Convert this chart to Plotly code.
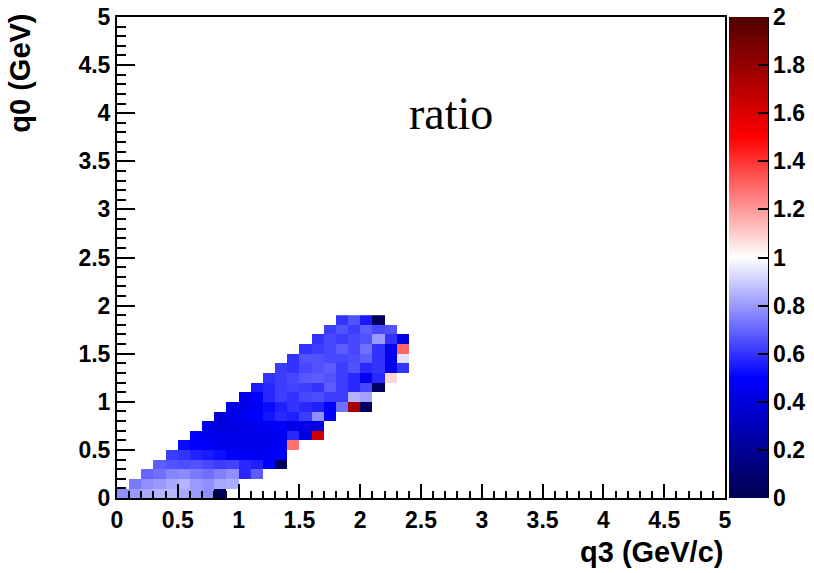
import numpy as np
import plotly.graph_objects as go

# Binning: 0.1 GeV bins in both q3 and q0, axes span [0, 5]
bin_width = 0.1
n_q3_bins = 25
axis_max = 5

# First filled q3 bin of every q0 row (row k covers q0 in [0.1k, 0.1k + 0.1])
first_q3_bin = [0, 1, 2, 3, 4, 5, 6, 7, 8, 9, 10, 11, 12, 13, 14, 15, 16, 17, 18]

# Ratio values per q0 row, starting at first_q3_bin[k]
ratio_q0_00 = [0.78, 0.80, 0.83, 0.85, 0.86, 0.83, 0.80, 0.78, 0.03]
ratio_q0_01 = [0.74, 0.78, 0.80, 0.83, 0.85, 0.80, 0.78, 0.83, 0.84]
ratio_q0_02 = [0.70, 0.72, 0.76, 0.77, 0.74, 0.72, 0.75, 0.78, 0.58, 0.68]
ratio_q0_03 = [0.68, 0.66, 0.65, 0.66, 0.64, 0.62, 0.63, 0.58, 0.56, 0.50, 0.03]
ratio_q0_04 = [0.62, 0.60, 0.57, 0.55, 0.53, 0.50, 0.48, 0.46, 0.47, 0.50]
ratio_q0_05 = [0.52, 0.50, 0.48, 0.46, 0.45, 0.44, 0.44, 0.46, 0.47, 1.28]
ratio_q0_06 = [0.48, 0.46, 0.45, 0.44, 0.43, 0.44, 0.45, 0.46, 0.58, 0.42, 1.65]
ratio_q0_07 = [0.45, 0.40, 0.42, 0.43, 0.45, 0.47, 0.48, 0.44, 0.43, 0.43]
ratio_q0_08 = [0.38, 0.44, 0.47, 0.50, 0.54, 0.58, 0.56, 0.62, 0.78, 0.50]
ratio_q0_09 = [0.46, 0.44, 0.47, 0.52, 0.56, 0.60, 0.58, 0.56, 0.50, 0.72, 1.75, 0.04]
ratio_q0_10 = [0.45, 0.50, 0.58, 0.62, 0.60, 0.64, 0.65, 0.62, 0.62, 0.85, 0.82]
ratio_q0_11 = [0.55, 0.58, 0.62, 0.63, 0.62, 0.60, 0.68, 0.62, 0.58, 0.64, 0.04]
ratio_q0_12 = [0.60, 0.62, 0.64, 0.67, 0.68, 0.66, 0.62, 0.58, 0.47, 0.58, 1.08]
ratio_q0_13 = [0.62, 0.60, 0.64, 0.66, 0.68, 0.62, 0.66, 0.58, 0.60, 0.47, 0.60]
ratio_q0_14 = [0.60, 0.66, 0.66, 0.64, 0.64, 0.65, 0.68, 0.60, 0.47, 0.94]
ratio_q0_15 = [0.60, 0.62, 0.64, 0.68, 0.64, 0.72, 0.60, 0.47, 1.30]
ratio_q0_16 = [0.60, 0.64, 0.62, 0.64, 0.66, 0.80, 0.60, 0.42]
ratio_q0_17 = [0.62, 0.66, 0.62, 0.68, 0.64, 0.66]
ratio_q0_18 = [0.60, 0.66, 0.55, 0.03]

rows = [ratio_q0_00, ratio_q0_01, ratio_q0_02, ratio_q0_03, ratio_q0_04,
        ratio_q0_05, ratio_q0_06, ratio_q0_07, ratio_q0_08, ratio_q0_09,
        ratio_q0_10, ratio_q0_11, ratio_q0_12, ratio_q0_13, ratio_q0_14,
        ratio_q0_15, ratio_q0_16, ratio_q0_17, ratio_q0_18]

# Empty bins stay NaN so they are left blank
z = np.full((len(rows), n_q3_bins), np.nan)
for k, (start, vals) in enumerate(zip(first_q3_bin, rows)):
    z[k, start:start + len(vals)] = vals

colorscale = [
    [0.00, "rgb(0,0,80)"],
    [0.25, "rgb(0,0,255)"],
    [0.50, "rgb(255,255,255)"],
    [0.75, "rgb(255,0,0)"],
    [1.00, "rgb(80,0,0)"],
]

tick_font = dict(family="Liberation Sans", size=23, color="black", weight="bold")
title_font = dict(family="Liberation Sans", size=29, color="black", weight="bold")

fig = go.Figure(go.Heatmap(
    z=z,
    x0=bin_width / 2, dx=bin_width,
    y0=bin_width / 2, dy=bin_width,
    zmin=0, zmax=2,
    colorscale=colorscale,
    hoverongaps=False,
    colorbar=dict(
        x=1.0066, xanchor="left", xref="paper",
        y=0.5, yanchor="middle", len=1, lenmode="fraction",
        thickness=39, thicknessmode="pixels",
        outlinewidth=0,
        ticks="inside", ticklen=10, tickwidth=2, tickcolor="black",
        tick0=0, dtick=0.2,
        tickfont=tick_font,
        ticklabelposition="outside",
        xpad=0, ypad=0,
    ),
))

axis_common = dict(
    range=[0, axis_max],
    showgrid=False, zeroline=False,
    showline=True, mirror=True, linecolor="black", linewidth=2,
    ticks="inside", tickwidth=2, tickcolor="black",
    tick0=0, dtick=0.5,
    tickfont=tick_font,
    minor=dict(dtick=0.1, ticks="inside", tickwidth=1.5, tickcolor="black"),
)

fig.update_xaxes(**axis_common, ticklen=14)
fig.update_xaxes(minor_ticklen=7)
fig.update_yaxes(**axis_common, ticklen=18)
fig.update_yaxes(minor_ticklen=9)

# Vertical axis line along the right side of the palette
fig.add_shape(type="line", xref="paper", yref="paper",
              x0=1.0707, x1=1.0707, y0=0, y1=1,
              line=dict(color="black", width=2))

fig.add_annotation(text="ratio", x=2.75, y=4.0, xref="x", yref="y",
                   showarrow=False,
                   font=dict(family="Liberation Serif", size=46, color="black"))

fig.add_annotation(text="q3 (GeV/c)", x=1, y=-0.112, xref="paper", yref="paper",
                   xanchor="right", yanchor="middle", showarrow=False,
                   font=title_font)

fig.add_annotation(text="q0 (GeV)", x=-0.1595, y=1.01, xref="paper", yref="paper",
                   xanchor="center", yanchor="top", textangle=-90, showarrow=False,
                   font=title_font)

fig.update_layout(
    width=814, height=573,
    margin=dict(l=117, r=89, t=17, b=75, autoexpand=False),
    paper_bgcolor="white", plot_bgcolor="white",
    showlegend=False,
)

fig.write_html("out.html")
